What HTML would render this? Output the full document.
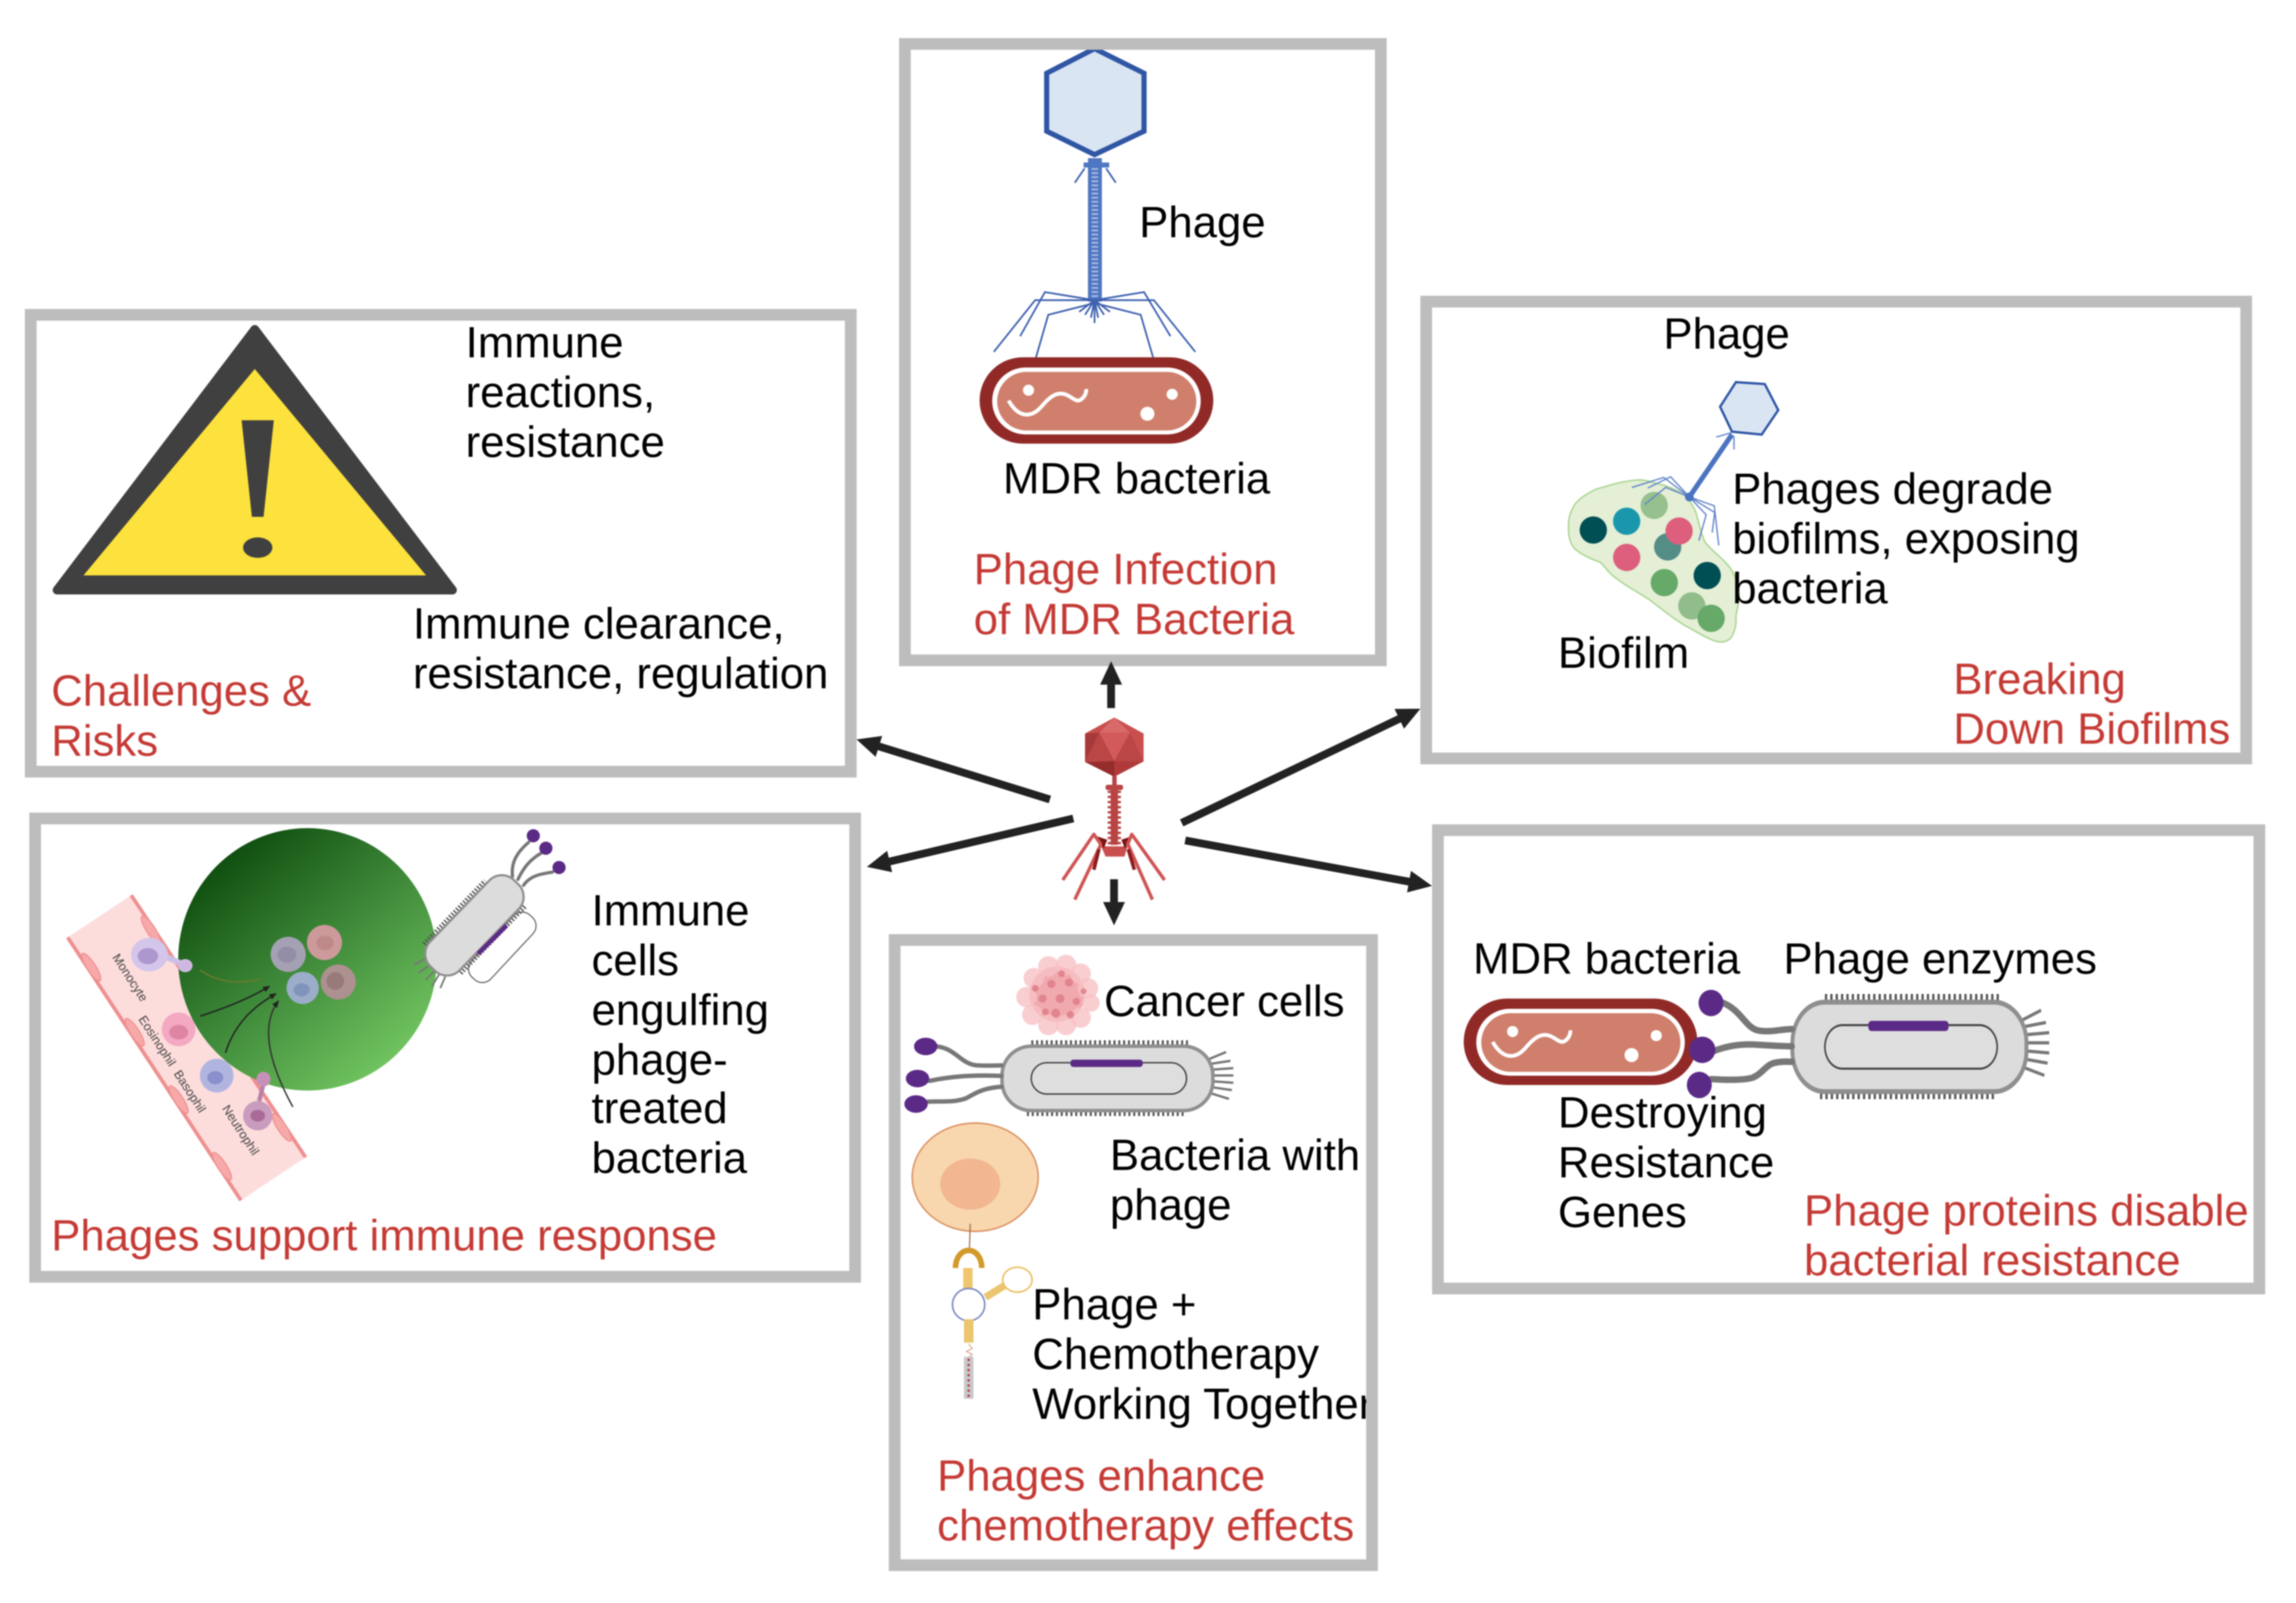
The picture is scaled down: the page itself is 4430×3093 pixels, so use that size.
<!DOCTYPE html>
<html><head><meta charset="utf-8"><title>Phage therapy overview</title>
<style>
html,body{margin:0;padding:0;background:#fff;width:4430px;height:3093px;overflow:hidden}
svg{display:block;filter:blur(1.4px)}
text{font-family:"Liberation Sans",Arial,sans-serif;font-size:29.85px;fill:#000}
text.r{fill:#c53a35}
.box{fill:none;stroke:#bdbdbd;stroke-width:8}
.ar{stroke:#222;stroke-width:5.3;fill:none}
.fib{stroke:#3f62b0;stroke-width:1.2;fill:none}
.fl{stroke:#777;fill:none;stroke-linecap:round}
.cl{font-size:8.5px;fill:#444}
</style></head><body>
<svg xmlns="http://www.w3.org/2000/svg" width="4430" height="3093" viewBox="0 0 1568 1094.8" preserveAspectRatio="none">
<defs>
<marker id="h" viewBox="0 -8 16 16" markerWidth="16" markerHeight="16" refX="8" refY="0" orient="auto" markerUnits="userSpaceOnUse"><path d="M0,-7.5L16,0L0,7.5Z" fill="#222"/></marker>
<marker id="t" viewBox="0 -3 6 6" markerWidth="5" markerHeight="5" refX="5" refY="0" orient="auto" markerUnits="userSpaceOnUse"><path d="M0,-2.5L6,0L0,2.5Z" fill="#222"/></marker>
<linearGradient id="gr" x1="0.15" y1="0.08" x2="0.85" y2="0.92"><stop offset="0" stop-color="#0c4a0c"/><stop offset="0.5" stop-color="#3f8a3a"/><stop offset="1" stop-color="#74c862"/></linearGradient>
<g id="red">
<rect x="669" y="244" width="159.6" height="59" rx="29.5" fill="#912a27"/>
<rect x="677.6" y="251" width="142.4" height="45.7" rx="22.8" fill="#fff"/>
<rect x="681" y="254" width="136" height="40" rx="20" fill="#cf7f6c"/>
<path d="M688.8,273.6C693,281 698,284 703,283C709,282 712,276 716,272.7C720,269 724,268 728,269.5C732,271 735,275 738,273C741,271 742,268 741.8,265.7" fill="none" stroke="#fff" stroke-width="2.6"/>
<circle cx="702.4" cy="266.5" r="3.8" fill="#fff"/><circle cx="800.5" cy="269.3" r="3.8" fill="#fff"/><circle cx="783.6" cy="282.6" r="4.8" fill="#fff"/>
</g>
<g id="bac">
<line x1="-52" y1="-23.3" x2="56.3" y2="-23.3" stroke="#555" stroke-width="5.4" stroke-dasharray="1.4 1.9"/>
<line x1="-55" y1="23" x2="53" y2="23" stroke="#555" stroke-width="5.4" stroke-dasharray="1.4 1.9"/>
<g stroke="#777" stroke-width="1.6"><line x1="69" y1="-13" x2="81" y2="-18"/><line x1="71" y1="-10" x2="84" y2="-12"/><line x1="72" y1="-6" x2="86" y2="-7"/><line x1="72" y1="-2" x2="86" y2="-2"/><line x1="72" y1="2" x2="86" y2="3"/><line x1="71" y1="6" x2="85" y2="8"/><line x1="70" y1="10" x2="83" y2="14"/></g>
<rect x="-72" y="-22" width="144" height="44" rx="20" fill="#dcdcdc" stroke="#8f8f8f" stroke-width="2.4"/>
<rect x="-52" y="-10.7" width="106" height="21.4" rx="10.7" fill="#dedede" stroke="#444" stroke-width="1"/>
<rect x="-25.3" y="-12.8" width="49.4" height="5" rx="2" fill="#5b2a86"/>
</g>
</defs>
<rect width="1568" height="1094.8" fill="#fff"/>

<!-- TOP PANEL -->
<polygon points="747.5,33.2 781.3,50 781.3,89.6 747.5,105.6 714.8,89.6 714.8,50" fill="#dae5f3" stroke="#2f55a4" stroke-width="3.5"/>
<rect x="743" y="108" width="9.5" height="98" fill="#4f76c2"/>
<line x1="747.7" y1="112" x2="747.7" y2="205" stroke="#a6bde3" stroke-width="4.5" stroke-dasharray="1.2 1.6"/>
<rect x="740" y="111" width="17.5" height="3.4" fill="#4f76c2"/>
<path class="fib" d="M734,124.8L740.7,115M762,124.8L755.4,115"/>
<path class="fib" d="M747.5,205L713.6,199.5L696.7,229.6M747.5,205L706.9,205L678.7,240.3M747.5,207L715.9,215L705.8,250M747.5,205L781.3,199.5L799.3,229.6M747.5,205L788,205L816.3,240.3M747.5,207L779,215L789.2,250"/>
<path class="fib" d="M747.5,205L737,213M747.5,205L741,215M747.5,205L745,217M747.5,205L747.5,220.6M747.5,205L750,217M747.5,205L754,215M747.5,205L758,213" stroke-width="1.5"/>
<use href="#red"/>
<text x="778" y="162">Phage</text>
<text x="685" y="337">MDR bacteria</text>
<text class="r" x="665" y="399">Phage Infection</text>
<text class="r" x="665" y="433">of MDR Bacteria</text>

<!-- WARNING PANEL -->
<path d="M174,225L39,403L309,403Z" fill="#404040" stroke="#404040" stroke-width="6" stroke-linejoin="round"/>
<polygon points="174,252 57,393 291,393" fill="#fde23d"/>
<polygon points="165,287 187,287 180,353 172,353" fill="#404040"/>
<ellipse cx="176" cy="374" rx="10" ry="7" fill="#404040"/>
<text x="318" y="244">Immune</text><text x="318" y="278">reactions,</text><text x="318" y="312">resistance</text>
<text x="282" y="436">Immune clearance,</text><text x="282" y="470">resistance, regulation</text>
<text class="r" x="35" y="482">Challenges &amp;</text><text class="r" x="35" y="516">Risks</text>

<!-- IMMUNE PANEL -->
<polygon points="89.6,611.4 46.2,640.2 164.5,819.8 208.7,790.4" fill="#fddcdc"/>
<g stroke="#ef8f8f" fill="#f7a9a9">
<line x1="46.2" y1="640.2" x2="164.5" y2="819.8" stroke-width="2.5"/>
<line x1="89.6" y1="611.4" x2="208.7" y2="790.4" stroke-width="2.5"/>
<g stroke-width="0.8"><ellipse cx="62.3" cy="660.5" rx="11" ry="3" transform="rotate(57 62.3 660.5)"/><ellipse cx="92" cy="705" rx="11" ry="3" transform="rotate(57 92 705)"/><ellipse cx="122" cy="751" rx="11" ry="3" transform="rotate(57 122 751)"/><ellipse cx="151.6" cy="796.5" rx="11" ry="3" transform="rotate(57 151.6 796.5)"/><ellipse cx="103" cy="635" rx="11" ry="3" transform="rotate(57 103 635)"/><ellipse cx="192.5" cy="770" rx="11" ry="3" transform="rotate(57 192.5 770)"/></g>
</g>
<ellipse cx="210" cy="655.2" rx="88.3" ry="89.6" fill="url(#gr)"/>
<path d="M110,652L126,659" stroke="#cdbfe6" stroke-width="4"/>
<ellipse cx="102" cy="652" rx="12.5" ry="11.5" fill="#d3c6ea"/><ellipse cx="101" cy="653" rx="7" ry="5.5" fill="#ae96cf"/>
<ellipse cx="126.5" cy="659.5" rx="5" ry="4.5" fill="#cfb8e0"/>
<circle cx="122" cy="703" r="11.5" fill="#f3a9c2"/><ellipse cx="122" cy="705" rx="6.5" ry="5" fill="#de84a4"/>
<circle cx="148" cy="734.6" r="11.5" fill="#b0b5e0"/><ellipse cx="147" cy="736" rx="5.5" ry="4.5" fill="#8a90cc"/>
<path d="M177,752L180,740" stroke="#b782aa" stroke-width="3"/>
<circle cx="176" cy="762" r="10" fill="#c99cbd"/><ellipse cx="176" cy="762" rx="5" ry="4" fill="#a96a98"/>
<ellipse cx="180" cy="737" rx="4.8" ry="5" fill="#c790b8"/>
<text class="cl" transform="translate(89,667.6) rotate(57)" text-anchor="middle" dy="3">Monocyte</text>
<text class="cl" transform="translate(107.5,710.8) rotate(57)" text-anchor="middle" dy="3">Eosinophil</text>
<text class="cl" transform="translate(129.8,745.3) rotate(57)" text-anchor="middle" dy="3">Basophil</text>
<text class="cl" transform="translate(164.5,771.7) rotate(57)" text-anchor="middle" dy="3">Neutrophil</text>
<circle cx="196.8" cy="651.8" r="12" fill="#a5a1b5"/><ellipse cx="196" cy="652" rx="6.5" ry="5.5" fill="#938da6"/>
<circle cx="221.6" cy="643.7" r="12" fill="#cc9a9a"/><ellipse cx="222" cy="644" rx="6" ry="5" fill="#bf8989"/>
<circle cx="206.7" cy="674.7" r="11" fill="#9cadca"/><ellipse cx="206" cy="676" rx="5.5" ry="4.5" fill="#8093ba"/>
<circle cx="231" cy="670.7" r="12" fill="#ad9090"/><ellipse cx="229" cy="670" rx="6" ry="6" fill="#987a7a"/>
<g fill="none" stroke-width="1">
<path d="M136.7,662.5C150,672 165,672 179,668.6" stroke="#6b7a2c"/>
<path d="M136.7,694C155,688 170,682 183.9,673.7" stroke="#222" marker-end="url(#t)"/>
<path d="M154,719C160,700 172,688 188.3,678.8" stroke="#222" marker-end="url(#t)"/>
<path d="M200,756C183,725 178,700 190,683.8" stroke="#333" marker-end="url(#t)"/>
</g>
<path class="fl" stroke-width="2.2" d="M350,598.6C349,590 352,583 361,575.3M353.7,600.6C358,592 362,587 370,582.4M357.5,604.7C362,598 369,597 377.3,595.6"/>
<circle cx="364.2" cy="570.8" r="4.5" fill="#5b2a86"/><circle cx="372.8" cy="579.3" r="4.5" fill="#5b2a86"/><circle cx="381.8" cy="592.5" r="4.5" fill="#5b2a86"/>
<g transform="translate(343,647) rotate(-47)"><rect x="-29" y="-9" width="58" height="18" rx="8" fill="#fff" stroke="#666" stroke-width="0.8"/></g>
<g transform="translate(324,632) rotate(-46)">
<line x1="-33" y1="-15.5" x2="27" y2="-15.5" stroke="#555" stroke-width="4" stroke-dasharray="1 1.3"/>
<line x1="-30" y1="15.5" x2="34" y2="15.5" stroke="#555" stroke-width="4" stroke-dasharray="1 1.3"/>
<g stroke="#777" stroke-width="1.2"><line x1="-39" y1="-8" x2="-48" y2="-11"/><line x1="-41" y1="-3" x2="-50" y2="-5"/><line x1="-41" y1="2" x2="-50" y2="2"/><line x1="-41" y1="6" x2="-50" y2="8"/><line x1="-39" y1="10" x2="-47" y2="13"/></g>
<rect x="-41" y="-14" width="82" height="28" rx="12" fill="#dcdcdc" stroke="#8f8f8f" stroke-width="1.5"/>
</g>
<line x1="326.5" y1="651.4" x2="346" y2="632" stroke="#5b2a86" stroke-width="3"/>
<text x="404" y="632">Immune</text><text x="404" y="666">cells</text><text x="404" y="700">engulfing</text><text x="404" y="734">phage-</text><text x="404" y="767">treated</text><text x="404" y="801">bacteria</text>
<text class="r" x="35" y="854">Phages support immune response</text>

<!-- BIOFILM PANEL -->
<path d="M1117.2,327.9C1105,329 1098,332 1090.2,334C1082,338 1078,341 1075.3,344.8C1072,350 1071,355 1071.2,359.7C1071,366 1072,371 1075.3,374.6C1080,379 1087,382 1092.9,384C1097,388 1099,392 1103.7,394.9C1110,400 1118,404 1126.7,409.8C1135,416 1142,422 1151,427.4C1158,431 1165,436 1172.7,438.2C1177,439 1180,438 1182.2,435.5C1185,431 1186,426 1185.5,420.6C1187,414 1188,408 1187.6,403C1186,396 1184,391 1180.8,386.8C1175,380 1169,376 1164.6,370.5C1161,363 1160,355 1157.8,348.9C1155,343 1152,339 1148.3,336.7C1142,333 1136,331 1130.7,330C1125,328 1121,327.5 1117.2,327.9Z" fill="#e4efd5" stroke="#a9d591" stroke-width="1"/>
<circle cx="1088.1" cy="362" r="9.3" fill="#004f55"/><circle cx="1110.9" cy="356" r="9.3" fill="#1a97ad"/><circle cx="1129.7" cy="345.2" r="9.3" fill="#96c18e"/><circle cx="1138.9" cy="373.5" r="9.3" fill="#548d86"/><circle cx="1146.7" cy="362.7" r="9.3" fill="#dd5f7d"/><circle cx="1110.9" cy="380.7" r="9.3" fill="#dd5f7d"/><circle cx="1136.6" cy="397.9" r="9.3" fill="#66a968"/><circle cx="1165.9" cy="393.1" r="9.3" fill="#004f55"/><circle cx="1155.4" cy="413.8" r="9.3" fill="#90bd8a"/><circle cx="1168.6" cy="422.3" r="9.3" fill="#66a968"/>
<line x1="1182.8" y1="296.8" x2="1153.7" y2="339.4" stroke="#4a73c0" stroke-width="3.4"/>
<polygon points="1185.5,261 1205.2,262.3 1214.4,280.1 1203.1,296.8 1182.8,294.8 1174.7,277.8" fill="#dae5f3" stroke="#2f55a4" stroke-width="1.6"/>
<path d="M1153.7,339.4L1140.9,325.6L1125.3,333.3M1153.7,339.4L1136.2,326.1L1114.5,332.9M1153.7,339.4L1137.5,332.9L1123.3,344.5M1153.7,339.4L1170.7,345.5L1173.8,372.5M1153.7,339.4L1171,350L1169.3,363.8M1153.7,339.4L1165.2,351.6L1160.2,369.2M1172,298.5L1182.8,295.4M1184.2,307L1184.2,298.1" fill="none" stroke="#5f83cb" stroke-width="0.9"/>
<circle cx="1153.7" cy="339.4" r="3" fill="#4a73c0"/>
<text x="1136" y="238">Phage</text>
<text x="1183" y="344">Phages degrade</text><text x="1183" y="378">biofilms, exposing</text><text x="1183" y="412">bacteria</text>
<text x="1064" y="456">Biofilm</text>
<text class="r" x="1334" y="474">Breaking</text><text class="r" x="1334" y="508">Down Biofilms</text>

<!-- ENZYME PANEL -->
<use href="#red" x="330.6" y="438"/>
<use href="#bac" transform="translate(1304,715) scale(1.11,1.39)"/>
<path class="fl" stroke-width="4.4" d="M1175.7,684.5C1190,690 1192,703 1202,704C1210,705 1216,703 1223.6,702.8M1170,718C1180,714 1190,713 1198,713.4C1208,714 1216,714.5 1223.6,714.6M1168.6,737C1178,737.5 1190,738 1197,736C1204,733 1206,727 1212.3,725.8C1216,725 1220,725 1223.6,725.2"/>
<ellipse cx="1168.5" cy="685" rx="8.5" ry="9" fill="#5b2a86"/><ellipse cx="1162.5" cy="717" rx="9" ry="9" fill="#5b2a86"/><ellipse cx="1160.5" cy="741" rx="8.5" ry="9" fill="#5b2a86"/>
<text x="1006" y="665">MDR bacteria</text><text x="1218" y="665">Phage enzymes</text>
<text x="1064" y="770">Destroying</text><text x="1064" y="804">Resistance</text><text x="1064" y="838">Genes</text>
<text class="r" x="1232" y="837">Phage proteins disable</text><text class="r" x="1232" y="871">bacterial resistance</text>

<!-- CHEMO PANEL -->
<circle cx="722" cy="679" r="19" fill="#f1a9b0"/>
<g fill="#f7c2c6" fill-opacity="0.8">
<circle cx="706" cy="668" r="7"/><circle cx="716" cy="660" r="7"/><circle cx="728" cy="659" r="7"/><circle cx="738" cy="665" r="7"/><circle cx="743" cy="675" r="7"/><circle cx="745" cy="685" r="6"/><circle cx="738" cy="695" r="7"/><circle cx="728" cy="700" r="7"/><circle cx="716" cy="700" r="7"/><circle cx="705" cy="693" r="7"/><circle cx="701" cy="681" r="7"/>
</g>
<g fill="#e07f8a" fill-opacity="0.9">
<circle cx="718" cy="672" r="2.8"/><circle cx="730" cy="671" r="2.8"/><circle cx="712" cy="682" r="2.8"/><circle cx="724" cy="682" r="3"/><circle cx="735" cy="684" r="2.5"/><circle cx="721" cy="692" r="3"/><circle cx="731" cy="693" r="2.5"/><circle cx="707" cy="675" r="2.3"/><circle cx="714" cy="691" r="2.3"/><circle cx="740" cy="677" r="2"/><circle cx="725" cy="665" r="2.3"/>
</g>
<use href="#bac" transform="translate(756.3,736.5)"/>
<path class="fl" stroke-width="3" d="M640,714.7C652,716 656,726 666,727.5C672,728 678,727.8 684,727.6M634.8,738.2C650,735 665,734 684,734.8M633.7,752.4C645,752 652,753 660,750C667,746 672,743 684,742.2"/>
<ellipse cx="632.2" cy="714.7" rx="8" ry="6" fill="#5b2a86"/><ellipse cx="626.6" cy="736.6" rx="8" ry="6" fill="#5b2a86"/><ellipse cx="625.6" cy="754" rx="8" ry="6" fill="#5b2a86"/>
<ellipse cx="666" cy="804" rx="43" ry="37" fill="#f9d7ae" stroke="#d98f5f" stroke-width="1"/>
<ellipse cx="662.6" cy="808.7" rx="20.5" ry="17.5" fill="#f2b691"/>
<line x1="662.6" y1="835.8" x2="662" y2="855" stroke="#9c6a4c" stroke-width="0.8"/>
<rect x="657.8" y="866" width="6.4" height="14" fill="#f0c66c"/>
<path d="M652.5,866C653,850 670,850 670.5,866" fill="none" stroke="#d29a2a" stroke-width="3.8"/>
<path d="M673,886L686,878" stroke="#ecc56f" stroke-width="5"/>
<ellipse cx="694.8" cy="874" rx="10" ry="8.5" fill="#fff" stroke="#eac060" stroke-width="1.1"/>
<circle cx="661.5" cy="891" r="11" fill="#fff" stroke="#7d87c4" stroke-width="1.1"/>
<rect x="658.3" y="901" width="6.5" height="16" fill="#ecc56f"/>
<path d="M661.5,918L664,921L660,923L664,925L661.5,927" fill="none" stroke="#d9a48a" stroke-width="0.7"/>
<rect x="658.3" y="926.6" width="6.5" height="28.7" fill="#c8c8c8"/>
<line x1="661.5" y1="928" x2="661.5" y2="955" stroke="#b3354a" stroke-width="1.5" stroke-dasharray="1.5 2"/>
<text x="754" y="694">Cancer cells</text>
<text x="758" y="799">Bacteria with</text><text x="758" y="833">phage</text>
<text x="705" y="901">Phage +</text><text x="705" y="935">Chemotherapy</text><text x="705" y="969">Working Together</text>
<text class="r" x="640" y="1018">Phages enhance</text><text class="r" x="640" y="1052">chemotherapy effects</text>

<!-- BOXES -->
<rect class="box" x="618" y="30" width="325" height="421"/>
<rect class="box" x="21" y="215" width="560" height="312"/>
<rect class="box" x="24" y="559" width="560" height="313"/>
<rect class="box" x="974" y="206" width="560" height="312"/>
<rect class="box" x="982" y="567" width="561" height="313"/>
<rect class="box" x="611" y="642" width="326" height="427"/>

<!-- CENTRAL PHAGE -->
<polygon points="761,490 781,501 781,520 761,530.5 741,520.4 741,501" fill="#c94f4f"/>
<polygon points="761,490 750.8,500.4 771.7,500.4" fill="#d96a6a"/>
<polygon points="750.8,500.4 771.7,500.4 761,519.7" fill="#d25a5a"/>
<polygon points="741,501 750.8,500.4 741,520.4" fill="#a63a3a"/>
<polygon points="741,520.4 761,519.7 761,530.5" fill="#962c2c"/>
<polygon points="761,519.7 781,520 761,530.5" fill="#b03a3a"/>
<polygon points="750.8,500.4 761,519.7 741,520.4" fill="#bb4646"/>
<polygon points="771.7,500.4 781,520 761,519.7" fill="#bb4646"/>
<rect x="759.6" y="530" width="3" height="7" fill="#b84444"/>
<rect x="755" y="536" width="12" height="3.6" rx="1.5" fill="#b84444"/>
<rect x="758.5" y="539" width="5" height="38" fill="#b84444"/>
<line x1="761" y1="540" x2="761" y2="577" stroke="#b84444" stroke-width="9" stroke-dasharray="1.6 1.9"/>
<path d="M752,578L770,578L768,585L755,585Z" fill="#c94f4f"/>
<path d="M756,574L750,572L754,579M766,574L772,572L768,579" fill="#7d1414" stroke="#7d1414" stroke-width="1"/>
<g fill="none" stroke="#cf5555" stroke-width="2.3" stroke-linejoin="round">
<path d="M752,577L747,569.8L725.8,601"/><path d="M751.7,577L734,614.4"/>
<path d="M770,577L772.9,569.8L795.3,601"/><path d="M770.5,577L787,614.4"/>
</g>
<path d="M750.5,580L747,594M770.5,580L774.7,594" stroke="#8c1c1c" stroke-width="2.4" fill="none"/>

<!-- ARROWS -->
<line class="ar" x1="758.8" y1="483.6" x2="758.8" y2="459.6" marker-end="url(#h)"/>
<line class="ar" x1="760.8" y1="600.5" x2="760.8" y2="624" marker-end="url(#h)"/>
<line class="ar" x1="717" y1="546" x2="592.6" y2="507.4" marker-end="url(#h)"/>
<line class="ar" x1="733" y1="559" x2="599.8" y2="590.2" marker-end="url(#h)"/>
<line class="ar" x1="807" y1="562" x2="962.8" y2="487.5" marker-end="url(#h)"/>
<line class="ar" x1="809.4" y1="574" x2="970.1" y2="603.6" marker-end="url(#h)"/>
</svg>
</body></html>
